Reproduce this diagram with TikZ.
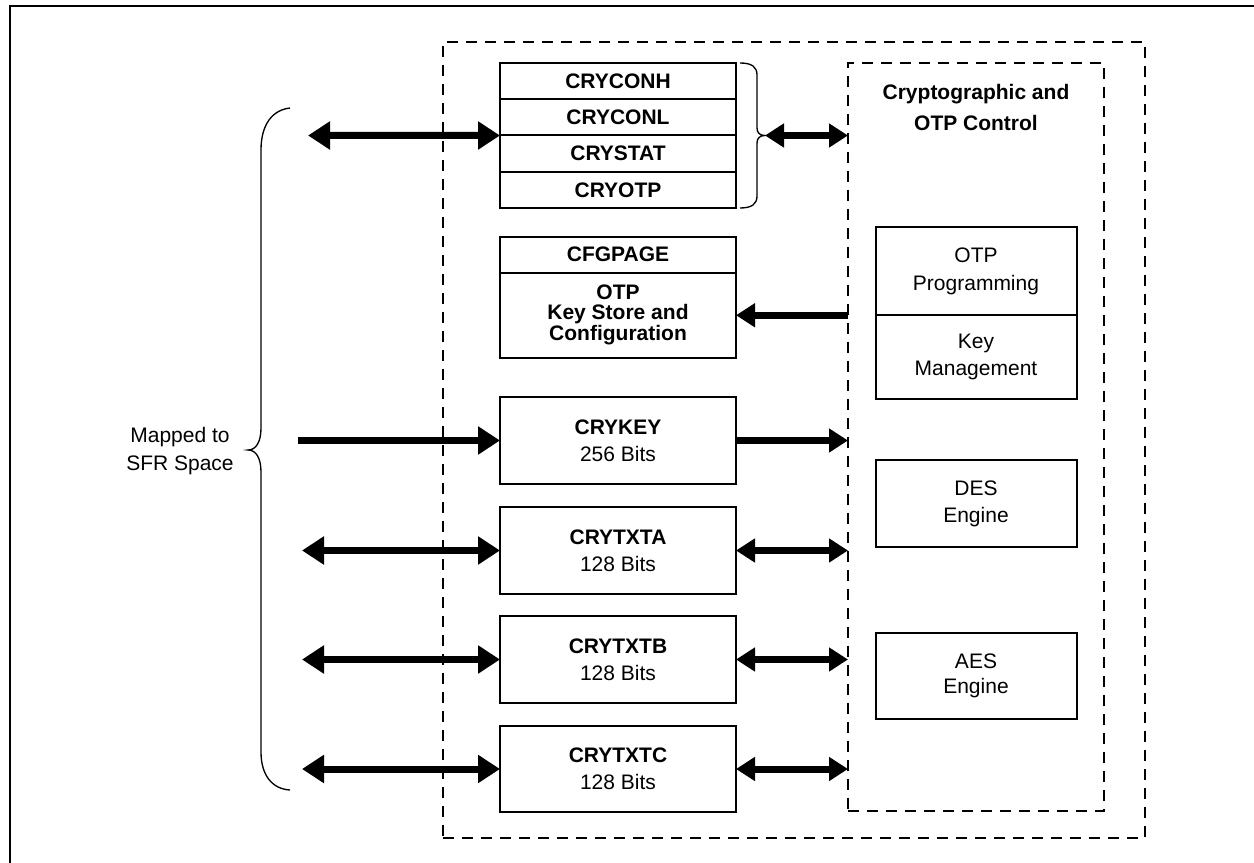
\documentclass[tikz,border=0pt]{standalone}
\usepackage{fontspec}
\setmainfont{Liberation Sans}
\usetikzlibrary{arrows.meta}
\begin{document}
\begin{tikzpicture}[x=0.6pt,y=-0.6pt,
  BigT/.tip={Triangle[length=13.2pt,width=16.2pt]},
  SmT/.tip={Triangle[length=11.4pt,width=13.8pt]},
  reg/.style n args={2}{draw, line width=1.2pt, inner sep=0pt, outer sep=0pt,
     minimum width={#1*0.6pt}, minimum height={#2*0.6pt}, align=center},
  bf/.style={font=\bfseries\fontsize{12.6}{16.2}\selectfont},
  rm/.style={font=\fontsize{12.6}{16.2}\selectfont},
  dbox/.style n args={2}{draw, line width=1.2pt, dash pattern=on 6.6pt off 4.8pt,
     inner sep=0pt, outer sep=0pt, minimum width={#1*0.6pt}, minimum height={#2*0.6pt}},
  fat/.style={line width=4.2pt},
  brace/.style={line width=0.8pt}
]
\useasboundingbox (0,0) rectangle (1254,863);
% frame
\draw[line width=1.6pt] (10,863) -- (10,6) -- (1254,6);

% dashed regions
\node[dbox={702}{796}] (outer) at (794,440) {};
\node[dbox={256}{748}] (ctrl) at (976,437) {};
\node[bf, align=center, font=\bfseries\fontsize{12.6}{18.6}\selectfont] (title) at (976,107) {Cryptographic and\\OTP Control};

% register stack
\node[reg={236}{36.25}, bf] (r1) at (618,81.125) {CRYCONH};
\node[reg={236}{36.25}, bf] (r2) at (618,117.375) {CRYCONL};
\node[reg={236}{36.25}, bf] (r3) at (618,153.625) {CRYSTAT};
\node[reg={236}{36.25}, bf] (r4) at (618,189.875) {CRYOTP};

\node[reg={236}{35.5}, bf] (cfg) at (618,254.75) {CFGPAGE};
\node[reg={236}{85.5}, font=\bfseries\fontsize{12.6}{11.7}\selectfont] (ks) at (618,315.25) {OTP\\Key Store and\\Configuration};

\node[reg={236}{87}, rm] (key) at (618,440.5) {\textbf{CRYKEY}\\256 Bits};
\node[reg={236}{87}, rm] (txta) at (618,550.5) {\textbf{CRYTXTA}\\128 Bits};
\node[reg={236}{87}, rm] (txtb) at (618,659.5) {\textbf{CRYTXTB}\\128 Bits};
\node[reg={236}{86}, rm] (txtc) at (618,769) {\textbf{CRYTXTC}\\128 Bits};

% right blocks
\node[reg={201}{88}, rm, font=\fontsize{12.6}{16.8}\selectfont] (otpp) at (976,271) {OTP\\Programming};
\node[reg={201}{84}, rm] (kmgmt) at (976,357) {Key\\Management};
\node[reg={201}{87}, rm] (des) at (976,503.5) {DES\\Engine};
\node[reg={201}{86}, rm, font=\fontsize{12.6}{15}\selectfont] (aes) at (976,676) {AES\\Engine};

% left label and brace
\node[rm, align=center, font=\fontsize{12.6}{16.8}\selectfont] (mapped) at (180,451) {Mapped to\\SFR Space};
\draw[brace] (290,108) .. controls (272,110) and (261,125) .. (261,150) -- (261,428)
  .. controls (261,442) and (256,450) .. (248,450)
  .. controls (256,450) and (261,458) .. (261,472) -- (261,752)
  .. controls (261,775) and (272,789) .. (290,790);

% small brace on the stack
\draw[brace] (740,63) .. controls (752,63) and (757,67) .. (757,75) -- (757,128)
  .. controls (757,133) and (760,135.5) .. (765,135.5)
  .. controls (760,135.5) and (757,138) .. (757,143) -- (757,196)
  .. controls (757,204) and (752,208) .. (740,208);
\coordinate (bt) at (765,135.5);

% free ends
\coordinate (a1) at (308,135.5);
\coordinate (k0) at (298,440.5);
\coordinate (ta) at (302,550.5);
\coordinate (tb) at (302,659.5);
\coordinate (tc) at (302,769);

% connectors
\draw[fat, {BigT}-{BigT}] (a1) -- (r2.south west);
\draw[fat, {SmT}-{SmT}] (bt) -- (bt -| ctrl.west);
\draw[fat, -{SmT}] (ctrl.west |- ks.east) -- (ks.east);
\draw[fat, -{BigT}] (k0) -- (key.west);
\draw[fat, -{SmT}] (key.east) -- (key.east -| ctrl.west);
\draw[fat, {BigT}-{BigT}] (ta) -- (txta.west);
\draw[fat, {SmT}-{SmT}] (txta.east) -- (txta.east -| ctrl.west);
\draw[fat, {BigT}-{BigT}] (tb) -- (txtb.west);
\draw[fat, {SmT}-{SmT}] (txtb.east) -- (txtb.east -| ctrl.west);
\draw[fat, {BigT}-{BigT}] (tc) -- (txtc.west);
\draw[fat, {SmT}-{SmT}] (txtc.east) -- (txtc.east -| ctrl.west);
\end{tikzpicture}
\end{document}
